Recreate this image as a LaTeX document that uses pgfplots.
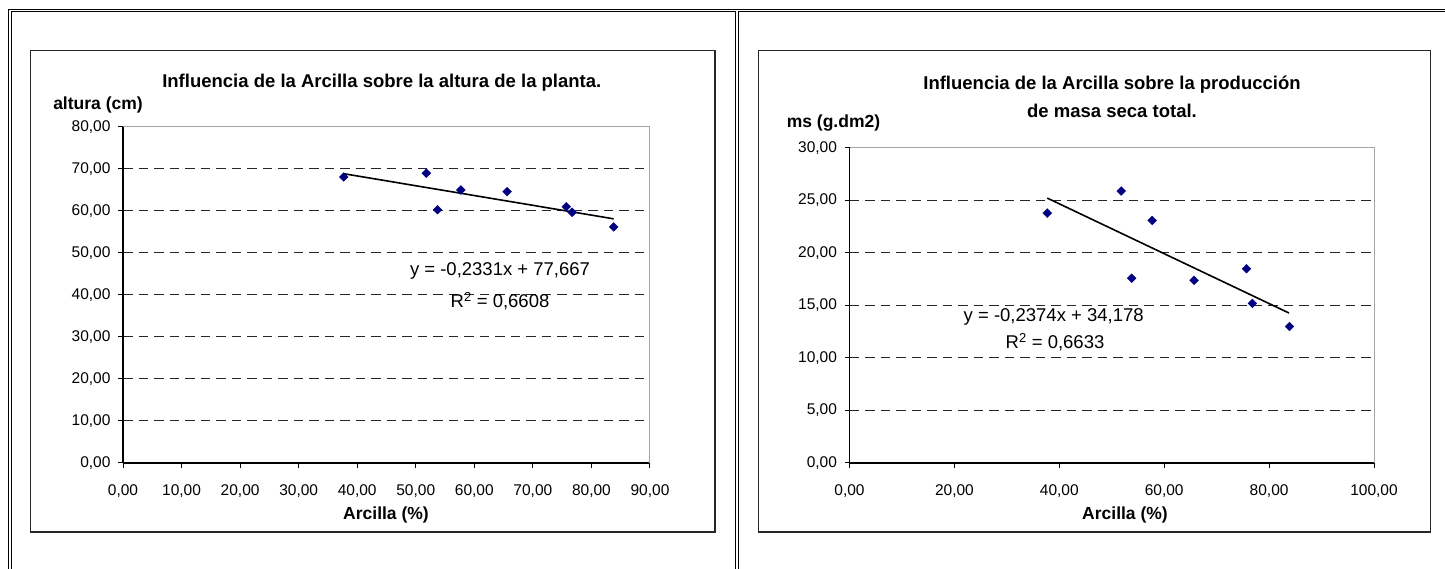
\documentclass[border=0pt]{standalone}
\usepackage{fontspec}
\setmainfont{Liberation Sans}
\usepackage{pgfplots}
\pgfplotsset{compat=1.18}
\definecolor{navy}{RGB}{0,0,128}
\pgfplotsset{excel/.style={
  scale only axis,
  anchor=south west,
  axis x line*=bottom, axis y line*=left,
  axis line style={black, line width=1.2pt, -},
  tick style={black, line width=1pt},
  tick align=outside,
  major tick length=5pt,
  ymajorgrids,
  major grid style={black!85, line width=1pt, dash pattern=on 9.5pt off 6pt},
  ticklabel style={font=\fontsize{15.5}{18}\selectfont},
  yticklabel style={xshift=-4pt},
  xticklabel style={yshift=-13pt},
  /pgf/number format/fixed,
  /pgf/number format/fixed zerofill,
  /pgf/number format/precision=2,
  /pgf/number format/use comma,
  /pgf/number format/1000 sep={},
  /pgf/number format/assume math mode=true,
  clip=false,
}}
\begin{document}
\begin{tikzpicture}[x=1pt,y=1pt]
\useasboundingbox (0,0) rectangle (1445,569);
\fill[white] (0,0) rectangle (1445,569);
% table frame
\draw[line width=1pt] (8.5,0) -- (8.5,559.5) -- (1445,559.5);
\draw[line width=1pt] (11.3,0) -- (11.3,557) -- (735.7,557) -- (735.7,0);
\draw[line width=1pt] (738.3,0) -- (738.3,557) -- (1445,557);
% chart areas
\draw[black!85, line width=1.5pt] (30.7,37) rectangle (715,518.3);
\draw[black!85, line width=1.5pt] (758.3,37) rectangle (1430.7,518.3);

% left chart
\begin{axis}[excel, at={(123pt,106pt)}, width=527pt, height=336pt,
  xmin=0, xmax=90, ymin=0, ymax=80,
  xtick={0,10,...,90}, ytick={0,10,...,80}]
  \draw[gray!70, line width=1pt] (rel axis cs:0,1) -- (rel axis cs:1,1) -- (rel axis cs:1,0);
  \addplot[only marks, mark=square*, mark size=3.1pt, navy, every mark/.append style={rotate=45}] coordinates {
    (37.7,68.1) (51.8,69.0) (53.7,60.3) (57.7,65.0) (65.6,64.6) (75.7,61.0) (76.7,59.7) (83.8,56.2)};
  \addplot[black, line width=1.6pt, no marks] coordinates {(37.7,68.88) (83.8,58.13)};
\end{axis}

% right chart
\begin{axis}[excel, at={(849.5pt,106pt)}, width=524.5pt, height=315pt,
  xmin=0, xmax=100, ymin=0, ymax=30,
  xtick={0,20,...,100}, ytick={0,5,...,30}]
  \draw[gray!70, line width=1pt] (rel axis cs:0,1) -- (rel axis cs:1,1) -- (rel axis cs:1,0);
  \addplot[only marks, mark=square*, mark size=3.1pt, navy, every mark/.append style={rotate=45}] coordinates {
    (37.7,23.8) (51.8,25.9) (53.8,17.6) (57.7,23.1) (65.7,17.4) (75.7,18.5) (76.8,15.2) (83.9,13.0)};
  \addplot[black, line width=1.6pt, no marks] coordinates {(37.7,25.23) (83.8,14.28)};
\end{axis}

% texts left
\node[font=\fontsize{18.5}{22}\selectfont\bfseries] at (381.8,486.3) {Influencia de la Arcilla sobre la altura de la planta.};
\node[font=\fontsize{17.5}{21}\selectfont\bfseries] at (98,464) {altura (cm)};
\node[font=\fontsize{17.5}{21}\selectfont\bfseries] at (386,54) {Arcilla (\%)};
\node[font=\fontsize{18.5}{21}\selectfont] at (500,297.6) {y = -0,2331x + 77,667};
\node[font=\fontsize{18.5}{21}\selectfont] at (500,268) {R\textsuperscript{2} = 0,6608};

% texts right
\node[font=\fontsize{18.5}{22}\selectfont\bfseries] at (1112,484.8) {Influencia de la Arcilla sobre la producción};
\node[font=\fontsize{18.5}{22}\selectfont\bfseries] at (1112,458.3) {de masa seca total.};
\node[font=\fontsize{17.5}{21}\selectfont\bfseries] at (833.5,446.4) {ms (g.dm2)};
\node[font=\fontsize{17.5}{21}\selectfont\bfseries] at (1125,54.5) {Arcilla (\%)};
\node[font=\fontsize{18.5}{21}\selectfont] at (1053.7,252.2) {y = -0,2374x + 34,178};
\node[font=\fontsize{18.5}{21}\selectfont] at (1055,227) {R\textsuperscript{2} = 0,6633};
\end{tikzpicture}
\end{document}
